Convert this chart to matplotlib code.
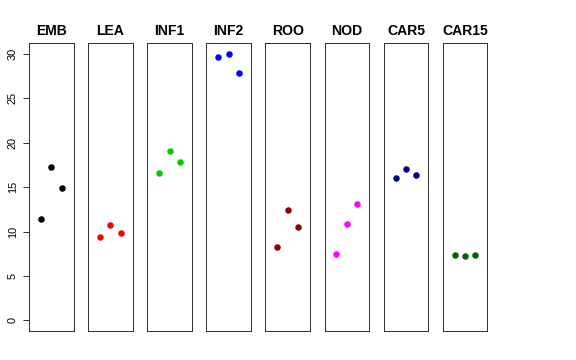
import numpy as np
import matplotlib
matplotlib.use("Agg")
import matplotlib.pyplot as plt

plt.rcParams['font.family'] = ['Liberation Sans', 'DejaVu Sans']

groups = ["EMB", "LEA", "INF1", "INF2", "ROO", "NOD", "CAR5", "CAR15"]
colors = ["black", "red", "#00CD00", "blue", "#8B0000", "magenta", "#00008B", "#006400"]
reps = [1, 2, 3]
EMB = [11.4, 17.3, 14.9]
LEA = [9.4, 10.7, 9.8]
INF1 = [16.6, 19.1, 17.8]
INF2 = [29.7, 30.0, 27.9]
ROO = [8.3, 12.4, 10.5]
NOD = [7.5, 10.8, 13.1]
CAR5 = [16.0, 17.0, 16.4]
CAR15 = [7.4, 7.2, 7.4]
values = [EMB, LEA, INF1, INF2, ROO, NOD, CAR5, CAR15]

W, H = 576, 360
fig = plt.figure(figsize=(W / 72, H / 72), dpi=72)

left0 = 29.0
pw = 44.6
step = 59.1
top = 43.3
bottom = 331.0

for i, (name, col, vals) in enumerate(zip(groups, colors, values)):
    x0 = left0 + i * step
    ax = fig.add_axes([x0 / W, 1 - bottom / H, pw / W, (bottom - top) / H])
    ax.plot(reps, vals, 'o', color=col, markersize=6.5, markeredgewidth=0)
    ax.set_xlim(-0.16, 4.16)
    ax.set_ylim(-1.2, 31.2)
    ax.set_xticks([])
    for s in ax.spines.values():
        s.set_linewidth(1.0)
        s.set_color("#333333")
    ax.set_title(name, fontsize=14, fontweight='bold', pad=8)
    if i == 0:
        ax.set_yticks([0, 5, 10, 15, 20, 25, 30])
        ax.tick_params(axis='y', length=6, labelsize=11, pad=5)
        for lab in ax.get_yticklabels():
            lab.set_rotation(90)
            lab.set_va('center')
    else:
        ax.set_yticks([])

fig.savefig("out.png", dpi=72)
